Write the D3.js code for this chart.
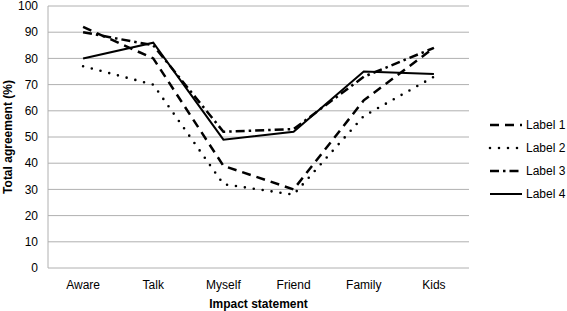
<!DOCTYPE html>
<html>
<head>
<meta charset="utf-8">
<script src="https://cdn.jsdelivr.net/npm/d3@7"></script>
<style>
  body { margin: 0; background: #fff; }
  text { font-family: "Liberation Sans", Arial, sans-serif; }
</style>
</head>
<body>
<svg id="chart" width="567" height="311"></svg>
<script>
// chart data
var categories = ["Aware", "Talk", "Myself", "Friend", "Family", "Kids"];
var seriesNames = ["Label 1", "Label 2", "Label 3", "Label 4"];
var label1 = [92, 80, 39, 30, 64, 84];
var label2 = [77, 70, 32, 28, 58, 73];
var label3 = [90, 85, 52, 53, 73, 84];
var label4 = [80, 86, 49, 52, 75, 74];
var yTicks = [0, 10, 20, 30, 40, 50, 60, 70, 80, 90, 100];

const margin = { top: 6, right: 98, bottom: 43, left: 48 },
  width = 567 - margin.left - margin.right,
  height = 311 - margin.top - margin.bottom;

var styles = [
  { dash: "9,6", width: 2.5, cap: "butt" },
  { dash: "0,9", width: 2.6, cap: "round" },
  { dash: "9,4,2.5,4", width: 2.5, cap: "butt" },
  { dash: null, width: 2, cap: "butt" }
];

var data = seriesNames.map((name, i) => ({ name: name, values: [label1, label2, label3, label4][i] }));

var svg = d3.select("#chart").append("g")
  .attr("transform", `translate(${margin.left},${margin.top})`);

const x = d3.scaleBand().domain(categories).range([0, width]);
const y = d3.scaleLinear().domain([0, 100]).range([height, 0]);

// gridlines
svg.selectAll(".grid")
  .data(yTicks)
  .join("line")
  .attr("x1", 0).attr("x2", width)
  .attr("y1", d => y(d)).attr("y2", d => y(d))
  .attr("stroke", "#b0b0b0").attr("stroke-width", 1);

// y axis line
svg.append("line")
  .attr("x1", 0).attr("x2", 0)
  .attr("y1", y(100)).attr("y2", y(0))
  .attr("stroke", "#b0b0b0").attr("stroke-width", 1);

// y tick labels
svg.selectAll(".ylab")
  .data(yTicks)
  .join("text")
  .attr("x", -10).attr("y", d => y(d))
  .attr("dy", "0.35em")
  .attr("text-anchor", "end")
  .style("font-size", "12px")
  .text(d => d);

// x tick labels
svg.selectAll(".xlab")
  .data(categories)
  .join("text")
  .attr("x", d => x(d) + x.bandwidth() / 2)
  .attr("y", height + 21)
  .attr("text-anchor", "middle")
  .style("font-size", "12px")
  .text(d => d);

// axis titles
svg.append("text")
  .attr("x", width / 2).attr("y", height + 40)
  .attr("text-anchor", "middle")
  .style("font-size", "12px").style("font-weight", "bold")
  .text("Impact statement");

svg.append("text")
  .attr("transform", `translate(${-36},${y(50)}) rotate(-90)`)
  .attr("text-anchor", "middle")
  .style("font-size", "12px").style("font-weight", "bold")
  .text("Total agreement (%)");

// lines
const line = d3.line()
  .x((d, i) => x(categories[i]) + x.bandwidth() / 2)
  .y(d => y(d));

svg.selectAll(".series")
  .data(data)
  .join("path")
  .attr("fill", "none")
  .attr("stroke", "#000")
  .attr("stroke-width", (d, i) => styles[i].width)
  .attr("stroke-dasharray", (d, i) => styles[i].dash)
  .attr("stroke-linecap", (d, i) => styles[i].cap)
  .attr("d", d => line(d.values));

// legend
var legend = svg.selectAll(".legend")
  .data(data)
  .join("g")
  .attr("transform", (d, i) => `translate(${width + 21},${119 + i * 23})`);

legend.append("line")
  .attr("x1", 0).attr("x2", 32)
  .attr("y1", 0).attr("y2", 0)
  .attr("stroke", "#000")
  .attr("stroke-width", (d, i) => styles[i].width)
  .attr("stroke-dasharray", (d, i) => styles[i].dash)
  .attr("stroke-linecap", (d, i) => styles[i].cap);

legend.append("text")
  .attr("x", 36).attr("y", 0)
  .attr("dy", "0.35em")
  .style("font-size", "12px")
  .text(d => d.name);
</script>
</body>
</html>
